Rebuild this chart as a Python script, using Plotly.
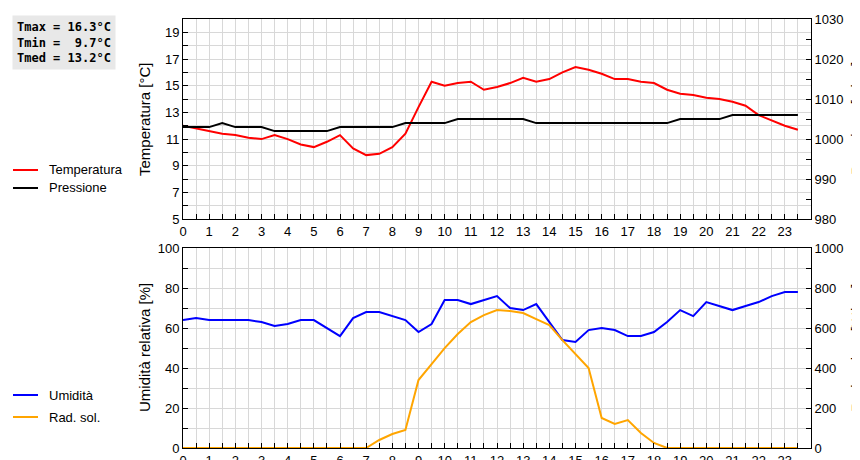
import plotly.graph_objects as go

hours = [i * 0.5 for i in range(48)]
temperatura = [12.0, 11.8, 11.6, 11.4, 11.3, 11.1, 11.0, 11.3, 11.0, 10.6, 10.4, 10.8,
               11.3, 10.3, 9.8, 9.9, 10.4, 11.4, 13.4, 15.3, 15.0, 15.2, 15.3, 14.7,
               14.9, 15.2, 15.6, 15.3, 15.5, 16.0, 16.4, 16.2, 15.9, 15.5, 15.5, 15.3,
               15.2, 14.7, 14.4, 14.3, 14.1, 14.0, 13.8, 13.5, 12.8, 12.4, 12.0, 11.7]
pressione = [1003, 1003, 1003, 1004, 1003, 1003, 1003, 1002, 1002, 1002, 1002, 1002,
             1003, 1003, 1003, 1003, 1003, 1004, 1004, 1004, 1004, 1005, 1005, 1005,
             1005, 1005, 1005, 1004, 1004, 1004, 1004, 1004, 1004, 1004, 1004, 1004,
             1004, 1004, 1005, 1005, 1005, 1005, 1006, 1006, 1006, 1006, 1006, 1006]
umidita = [64, 65, 64, 64, 64, 64, 63, 61, 62, 64, 64, 60,
           56, 65, 68, 68, 66, 64, 58, 62, 74, 74, 72, 74,
           76, 70, 69, 72, 63, 54, 53, 59, 60, 59, 56, 56,
           58, 63, 69, 66, 73, 71, 69, 71, 73, 76, 78, 78]
rad_sol = [0, 0, 0, 0, 0, 0, 0, 0, 0, 0, 0, 0,
           0, 0, 0, 40, 70, 90, 340, 420, 500, 570, 630, 665,
           690, 685, 675, 645, 615, 540, 470, 400, 150, 120, 140, 75,
           25, 0, 0, 0, 0, 0, 0, 0, 0, 0, 0, 0]
stats = ["Tmax = 16.3°C", "Tmin =  9.7°C", "Tmed = 13.2°C"]

fig = go.Figure()
fig.add_trace(go.Scatter(x=hours, y=temperatura, mode="lines", line=dict(color="#ff0000", width=2), xaxis="x", yaxis="y"))
fig.add_trace(go.Scatter(x=hours, y=pressione, mode="lines", line=dict(color="#000000", width=2), xaxis="x", yaxis="y2"))
fig.add_trace(go.Scatter(x=hours, y=umidita, mode="lines", line=dict(color="#0000ff", width=2), xaxis="x2", yaxis="y3"))
fig.add_trace(go.Scatter(x=hours, y=rad_sol, mode="lines", line=dict(color="#ffa500", width=2), xaxis="x2", yaxis="y4"))

font = dict(family="Liberation Sans, Arial", size=13, color="black")
xt = [i * 0.5 for i in range(49)]
xl = [str(int(v)) if v == int(v) and v < 24 else "" for v in xt]
xax = dict(range=[0, 24], tickvals=xt, ticktext=xl, ticks="inside", ticklen=5, tickcolor="black",
           showgrid=True, gridcolor="#d8d8d8", gridwidth=1, showline=True, linecolor="black",
           mirror=True, zeroline=False, tickfont=font, automargin=False)

def yax(rng, step, lab_every, side="left", overlay=None, anchor="x", domain=None):
    vals = []
    v = rng[0]
    while v <= rng[1] + 1e-9:
        vals.append(v)
        v += step
    txt = [str(int(v)) if round((v - rng[0]) / step) % lab_every == 0 else "" for v in vals]
    d = dict(range=rng, tickvals=vals, ticktext=txt, ticks="inside", ticklen=5, tickcolor="black",
             showline=True, linecolor="black", zeroline=False, tickfont=font,
             side=side, anchor=anchor, automargin=False)
    if overlay:
        d.update(overlaying=overlay, showgrid=False)
    else:
        d.update(showgrid=True, gridcolor="#d8d8d8", domain=domain, mirror=True)
    return d

fig.update_layout(
    width=860, height=460, margin=dict(l=0, r=0, t=0, b=0),
    paper_bgcolor="white", plot_bgcolor="white", showlegend=False,
    xaxis=dict(xax, domain=[0.2035, 0.9337], anchor="y"),
    xaxis2=dict(xax, domain=[0.2035, 0.9337], anchor="y3"),
    yaxis=yax([5, 20], 1, 2, domain=[0.541, 0.976]),
    yaxis2=yax([980, 1030], 5, 2, side="right", overlay="y"),
    yaxis3=yax([0, 100], 10, 2, anchor="x2", domain=[0.0435, 0.478]),
    yaxis4=yax([0, 1000], 100, 2, side="right", overlay="y3", anchor="x2"),
)

titles = [("Temperatura [°C]", 136, 111), ("Pressione [mbar]", 848, 111),
          ("Umidità relativa [%]", 136, 340), ("Rad. solare [W/mq]", 848, 340)]
for t, px, py in titles:
    fig.add_annotation(x=px / 860, y=1 - py / 460, xref="paper", yref="paper", text=t, textangle=-90,
                       showarrow=False, xanchor="center", yanchor="middle",
                       font=dict(family="Liberation Sans, Arial", size=15, color="black"))

fig.add_annotation(x=0.005, y=0.985, xref="paper", yref="paper", xanchor="left", yanchor="top",
                   text="<br>".join(s.replace(" ", "&nbsp;") for s in stats), showarrow=False, align="left",
                   bgcolor="#e8e8e8", borderpad=4,
                   font=dict(family="DejaVu Sans Mono", size=12, color="black", weight="bold"))

legend = [("Temperatura", "#ff0000", 162), ("Pressione", "#000000", 180),
          ("Umidità", "#0000ff", 387), ("Rad. sol.", "#ffa500", 409)]
for name, col, py in legend:
    yy = 1 - py / 460
    fig.add_shape(type="line", xref="paper", yref="paper", x0=5 / 860, x1=30 / 860, y0=yy, y1=yy,
                  line=dict(color=col, width=2))
    fig.add_annotation(x=39 / 860, y=yy, xref="paper", yref="paper", xanchor="left", yanchor="middle",
                       text=name, showarrow=False, font=font)

fig.write_html("out.html")
